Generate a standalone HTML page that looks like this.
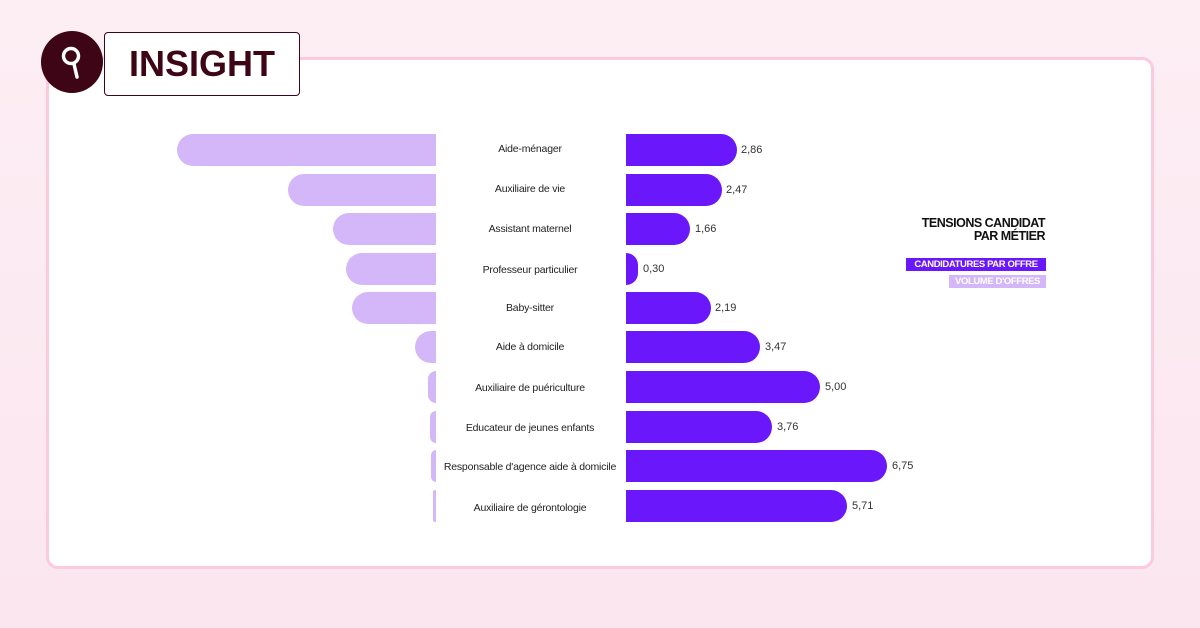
<!DOCTYPE html>
<html><head><meta charset="utf-8"><style>
body{margin:0;width:1200px;height:628px;background:linear-gradient(180deg,#fdeef4,#fbe6ef);position:relative;overflow:hidden;font-family:"Liberation Sans",sans-serif}
.card{position:absolute;left:46px;top:57px;width:1102px;height:506px;background:#fff;border:3px solid #fccadc;border-radius:12px}
.l{position:absolute;background:#d4b7f8;border-radius:16px 0 0 16px;height:32px}
.r{position:absolute;background:#6b17fb;border-radius:0 16px 16px 0;height:32px;left:626px}
.lab{position:absolute;left:430px;width:200px;text-align:center;font-size:10.5px;color:#222;line-height:32px;height:32px;letter-spacing:-0.2px}
.v{position:absolute;font-size:11px;color:#333;line-height:32px}
</style></head><body>
<div class="card"></div>
<div style="position:absolute;left:41px;top:31px;width:62px;height:62px;border-radius:50%;background:#3d0515"></div>
<svg style="position:absolute;left:41px;top:31px" width="62" height="62"><circle cx="30" cy="25" r="7.5" fill="none" stroke="#fff" stroke-width="3.5"/><line x1="33" y1="33" x2="36" y2="46" stroke="#fff" stroke-width="3.5" stroke-linecap="round"/></svg>
<div style="position:absolute;left:104px;top:32px;width:196px;height:64px;border:1.5px solid #3d0515;border-radius:4px;background:#fff;box-sizing:border-box;font-weight:bold;font-size:36px;color:#3d0515;line-height:62px;text-align:center">INSIGHT</div>

<div class="l" style="top:134px;left:177px;width:259px"></div><div class="lab" style="top:133px">Aide-ménager</div><div class="r" style="top:134px;width:111px"></div><div class="v" style="top:134px;left:741px">2,86</div>
<div class="l" style="top:174px;left:288px;width:148px"></div><div class="lab" style="top:173px">Auxiliaire de vie</div><div class="r" style="top:174px;width:96px"></div><div class="v" style="top:174px;left:726px">2,47</div>
<div class="l" style="top:213px;left:333px;width:103px"></div><div class="lab" style="top:213px">Assistant maternel</div><div class="r" style="top:213px;width:64px"></div><div class="v" style="top:213px;left:695px">1,66</div>
<div class="l" style="top:253px;left:346px;width:90px"></div><div class="lab" style="top:254px">Professeur particulier</div><div class="r" style="top:253px;width:12px"></div><div class="v" style="top:253px;left:643px">0,30</div>
<div class="l" style="top:292px;left:352px;width:84px"></div><div class="lab" style="top:292px">Baby-sitter</div><div class="r" style="top:292px;width:85px"></div><div class="v" style="top:292px;left:715px">2,19</div>
<div class="l" style="top:331px;left:415px;width:21px"></div><div class="lab" style="top:331px">Aide à domicile</div><div class="r" style="top:331px;width:134px"></div><div class="v" style="top:331px;left:765px">3,47</div>
<div class="l" style="top:371px;left:428px;width:8px;border-radius:8px 0 0 8px"></div><div class="lab" style="top:372px">Auxiliaire de puériculture</div><div class="r" style="top:371px;width:194px"></div><div class="v" style="top:371px;left:825px">5,00</div>
<div class="l" style="top:411px;left:430px;width:6px;border-radius:6px 0 0 6px"></div><div class="lab" style="top:412px">Educateur de jeunes enfants</div><div class="r" style="top:411px;width:146px"></div><div class="v" style="top:411px;left:777px">3,76</div>
<div class="l" style="top:450px;left:431px;width:5px;border-radius:5px 0 0 5px"></div><div class="lab" style="top:451px">Responsable d'agence aide à domicile</div><div class="r" style="top:450px;width:261px"></div><div class="v" style="top:450px;left:892px">6,75</div>
<div class="l" style="top:490px;left:433px;width:3px;border-radius:2px 0 0 2px"></div><div class="lab" style="top:492px">Auxiliaire de gérontologie</div><div class="r" style="top:490px;width:221px"></div><div class="v" style="top:490px;left:852px">5,71</div>

<div style="position:absolute;left:880px;top:217px;width:165px;text-align:right;font-weight:bold;font-size:12.5px;line-height:13px;color:#111;letter-spacing:-0.5px">TENSIONS CANDIDAT<br>PAR MÉTIER</div>
<div style="position:absolute;left:906px;top:258px;width:140px;height:13px;background:#6b17fb;color:#fff;font-weight:bold;font-size:9.5px;line-height:13px;text-align:center;letter-spacing:-0.4px;white-space:nowrap">CANDIDATURES PAR OFFRE</div>
<div style="position:absolute;left:949px;top:275px;width:97px;height:13px;background:#d4b7f8;color:#fff;font-weight:bold;font-size:9.5px;line-height:13px;text-align:center;letter-spacing:-0.4px;white-space:nowrap">VOLUME D'OFFRES</div>
</body></html>
